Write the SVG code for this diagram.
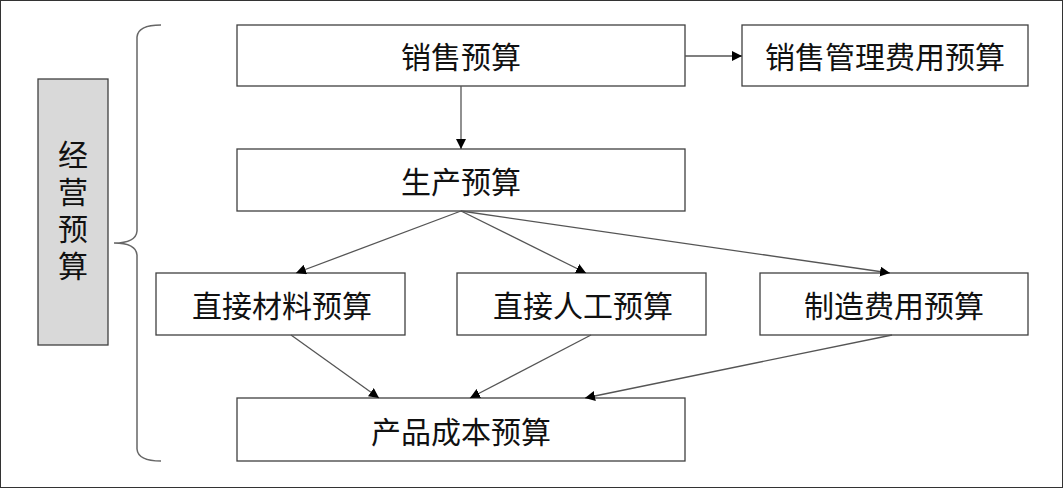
<svg xmlns="http://www.w3.org/2000/svg" width="1063" height="488" viewBox="0 0 1063 488">
<style>
.box{fill:#fff;stroke:#404040;stroke-width:1.3}
.t{font-family:"Noto Sans CJK SC","Noto Sans",sans-serif;font-size:30px;fill:#111;text-anchor:middle;dominant-baseline:central}
.c{stroke:#555;stroke-width:1.3;fill:none;marker-end:url(#ah)}
</style>
<defs>
<marker id="ah" viewBox="0 0 10 10" refX="10" refY="5" markerWidth="10" markerHeight="10" markerUnits="userSpaceOnUse" orient="auto">
<path d="M0,0 L10,5 L0,10 z" fill="#000"/>
</marker>
</defs>
<rect x="0.5" y="0.5" width="1062" height="487" fill="#fff" stroke="#333" stroke-width="1"/>
<g id="n_main">
<rect x="38" y="79" width="70" height="266" fill="#d9d9d9" stroke="#404040" stroke-width="1.3"/>
<text class="t" x="73" y="214" font-size="30" writing-mode="vertical-rl" letter-spacing="7">经营预算</text>
</g>
<g id="brace">
<path d="M161,25 Q138,25 137,37 L137,231 Q136,243 114,243 Q136,243 137,255 L137,449 Q138,461 161,461" fill="none" stroke="#666" stroke-width="1.5"/>
</g>
<g id="n1"><rect class="box" x="237" y="25" width="448" height="61"/><text class="t" x="461" y="55">销售预算</text></g>
<g id="n2"><rect class="box" x="742" y="25" width="286" height="61"/><text class="t" x="885" y="55">销售管理费用预算</text></g>
<g id="n3"><rect class="box" x="237" y="149" width="448" height="62"/><text class="t" x="461" y="180">生产预算</text></g>
<g id="n4"><rect class="box" x="156" y="273" width="249" height="62"/><text class="t" x="282" y="304">直接材料预算</text></g>
<g id="n5"><rect class="box" x="457" y="273" width="249" height="62"/><text class="t" x="583" y="304">直接人工预算</text></g>
<g id="n6"><rect class="box" x="760" y="273" width="268" height="62"/><text class="t" x="894" y="304">制造费用预算</text></g>
<g id="n7"><rect class="box" x="237" y="398" width="448" height="63"/><text class="t" x="461" y="430">产品成本预算</text></g>
<g id="connectors">
<line class="c" x1="461" y1="86" x2="461" y2="149"/>
<line class="c" x1="685" y1="56" x2="742" y2="56"/>
<line class="c" x1="461" y1="211" x2="296" y2="273"/>
<line class="c" x1="461" y1="211" x2="586" y2="273"/>
<line class="c" x1="461" y1="211" x2="890" y2="273"/>
<line class="c" x1="291" y1="335" x2="379" y2="398"/>
<line class="c" x1="591" y1="335" x2="470" y2="398"/>
<line class="c" x1="892" y1="335" x2="585" y2="398"/>
</g>
</svg>
